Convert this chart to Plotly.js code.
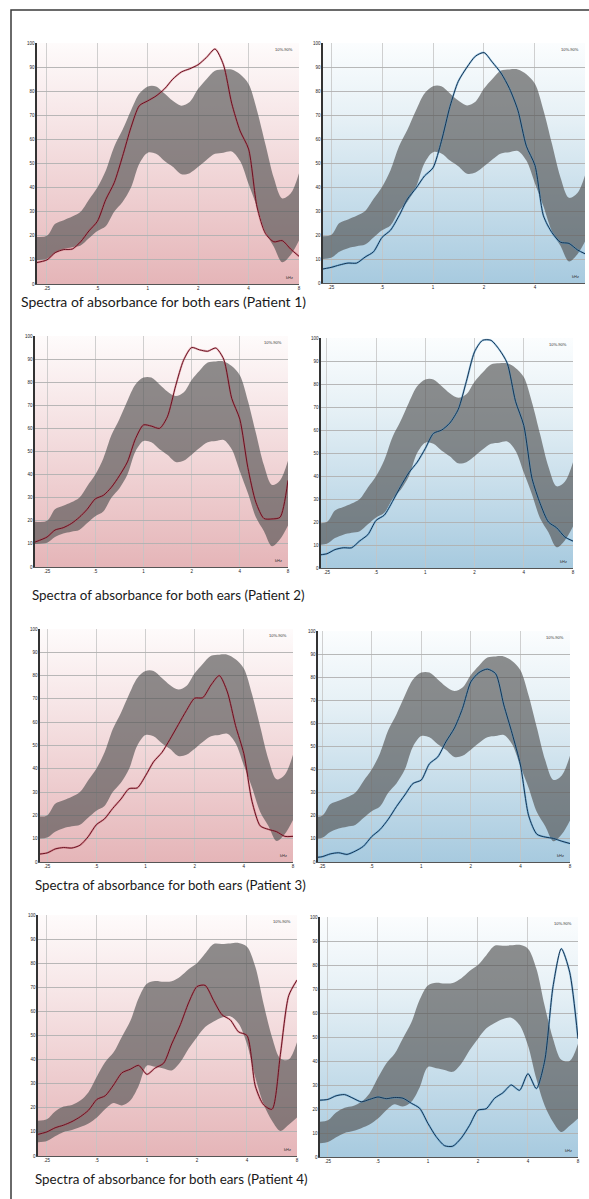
<!DOCTYPE html>
<html><head><meta charset="utf-8">
<script src="https://cdn.plot.ly/plotly-3.0.1.min.js"></script>
<style>html,body{margin:0;padding:0;background:#fff}#chart{width:589px;height:1199px}</style>
</head><body><div id="chart"></div>
<script>
// Frequencies (kHz), 1/6-octave steps
const freqKHz = [0.21,0.25,0.28,0.315,0.354,0.397,0.445,0.5,0.561,0.63,0.707,0.794,0.891,1,1.12,1.26,1.41,1.59,1.78,2,2.24,2.52,2.83,3.17,3.56,4,4.49,5.04,5.66,6.35,7.13,8];
const xTickVals = [0.25,0.5,1,2,4,8];
const xTickText = ['.25','.5','1','2','4','8'];
const yTickVals = [0,10,20,30,40,50,60,70,80,90,100];

// Normative 10%-90% band (patients 1-3)
const normUpper = [19.6,20,25,26.5,28,30,35,40,47,57,64,72,79,82,82,79,76,74,75.5,81,85,88.5,89,89,87,83,72,58,44,35.5,37.5,46];
const normLower = [10,10.5,13,14.5,15.3,16,19,22,24,30,34,40,50,54.5,54,51,48.6,45.5,46,48.6,51.5,54,54.5,55,51,41.5,32,21.5,15.5,9,12,18];
// Normative band (patient 4)
const normUpperP4 = [14.6,15.3,18.5,20.5,21.2,23,26.5,33,39,43,49.5,56,65.5,71.5,72.6,72.3,72.5,74.5,77.5,80,84,88,88,88.2,88.4,86.8,78.5,63,49.3,40.5,40,47.2];
const normLowerP4 = [5.6,6.2,8.2,10,10.8,12,13.5,16,19.5,22,21,23,29,37.5,37,36.3,35.5,39,44.5,49.3,53.5,55.8,57.5,58,55,46.5,32.6,21.5,14.6,10.4,13,16];

// Measured absorbance (%), left ear (red) and right ear (blue)
const p1Left  = [8.7,10,13,14.3,14.5,17.5,22,26,35,42,53,65,74,76,78,81,85,88,89.3,91,94,97.5,91,75,63.5,56,32,21,17.5,18,14.5,11.5];
const p1Right = [5.5,6.5,7.5,8.3,8.3,10.8,13,19,22,28,35,39.5,44.6,48,59,73.6,84,90,94.5,96,92,87.5,81,72,57,49,28,21,17,16.5,13.8,12];
const p2Left  = [10.8,13,16,17,18.8,21.5,25,29.5,31,34.5,39.5,45.5,55.5,61.5,61,60,65,78.5,89.5,95,94,93.4,94.8,90,73,64,43,28,21,20.8,21.5,37.5];
const p2Right = [5.5,6.2,8,8.8,8.8,11.8,14.5,20.7,23,29,35.5,41.5,46,52,58.5,60,63,69,81,94,99,99,95,89,72.5,62,39,28,20,17.5,13.5,11.7];
const p3Left  = [3.2,3.9,5.6,6.2,6,7.2,10.8,16,18.5,23,27,31.5,31.8,37,43,47,52.6,59,65,70.3,70.5,76,80,73,58.5,46.5,26,15.5,14,13,11,11];
const p3Right = [1.7,2.3,3.5,4,3.3,4.7,6.8,11,14,18.5,24,29,34,35.5,42.5,45.5,52,58,66.5,78,82,83.5,81.5,68,55.7,42,20,12,10.8,10.2,9,8];
const p4Left  = [8.6,10,11.7,12.8,14.3,16.3,19,23.5,25,29.5,34.5,36,37.6,33.9,36.5,38.5,46.5,54.5,63.5,70.3,70.8,64.5,58.6,56.5,51.5,50,29,21.2,19.4,42,66.5,73];
const p4Right = [23.6,24,25.5,26,24.5,23,24,25,24.3,24.8,24.5,22.4,20.3,14,8.5,4.7,4.5,8,13.2,19.5,20.1,24.5,26.8,30,27.8,34.7,28.5,40,71,86.8,77,49.3];

const captions = ['Spectra of absorbance for both ears (Patient 1)','Spectra of absorbance for both ears (Patient 2)','Spectra of absorbance for both ears (Patient 3)','Spectra of absorbance for both ears (Patient 4)'];
const bandLabel = '10%-90%';
const unitLabel = 'kHz';

// ---- layout geometry (pixels) ----
const W = 589, H = 1199;
const panels = [
  {box:[37,299,43,284],  xr:[0.218,8],   ear:'L', data:p1Left,  up:normUpper,   lo:normLower},
  {box:[323,585,43,283], xr:[0.224,7.9], ear:'R', data:p1Right, up:normUpper,   lo:normLower},
  {box:[35,288,336,567], xr:[0.21,8],    ear:'L', data:p2Left,  up:normUpper,   lo:normLower},
  {box:[321,573,338,568],xr:[0.23,8],    ear:'R', data:p2Right, up:normUpper,   lo:normLower},
  {box:[40,293,629,862], xr:[0.226,8],   ear:'L', data:p3Left,  up:normUpper,   lo:normLower},
  {box:[318,570,631,862],xr:[0.236,8],   ear:'R', data:p3Right, up:normUpper,   lo:normLower},
  {box:[38,297,915,1156],xr:[0.221,8],   ear:'L', data:p4Left,  up:normUpperP4, lo:normLowerP4},
  {box:[320,578,917,1157],xr:[0.224,8],  ear:'R', data:p4Right, up:normUpperP4, lo:normLowerP4}
];
const capPos = [[19,302,14],[30,595,13.4],[33,885,13.3],[33,1179,13.4]];

function grad(top, mid, bottom){
  const svg = '<svg xmlns="http://www.w3.org/2000/svg" width="100" height="100" viewBox="0 0 100 100" preserveAspectRatio="none">'+
   '<defs><linearGradient id="g" x1="0" y1="0" x2="0" y2="1">'+
   '<stop offset="0" stop-color="'+top+'"/><stop offset="0.3" stop-color="'+mid+'"/><stop offset="1" stop-color="'+bottom+'"/>'+
   '</linearGradient></defs><rect x="0" y="0" width="100" height="100" fill="url(#g)"/></svg>';
  return 'data:image/svg+xml;charset=utf-8,' + encodeURIComponent(svg);
}
const pinkBg = grad('#fefbfb','#f7e7e8','#e5b5b8');
const blueBg = grad('#fbfdfe','#e7f1f6','#a7cadf');

const traces = [];
const layout = {
  width: W, height: H, margin:{l:0,r:0,t:0,b:0},
  paper_bgcolor:'#ffffff', plot_bgcolor:'rgba(0,0,0,0)', showlegend:false,
  font:{family:'Lato, "Open Sans", sans-serif', color:'#222'},
  images:[], annotations:[], shapes:[]
};

panels.forEach((p,i)=>{
  const n = i+1, sfx = n===1?'':String(n);
  const xa = 'x'+sfx, ya = 'y'+sfx;
  const [x0,x1,y0,y1] = p.box;
  const lineCol = p.ear==='L' ? '#6a1020' : '#153452';
  const haloCol = p.ear==='L' ? 'rgba(190,70,85,0.4)' : 'rgba(70,150,205,0.5)';
  traces.push({x:freqKHz, y:p.lo, xaxis:xa, yaxis:ya, type:'scatter', mode:'lines',
    line:{width:0, shape:'spline', smoothing:0.9, color:'rgba(0,0,0,0)'}, hoverinfo:'skip'});
  traces.push({x:freqKHz, y:p.up, xaxis:xa, yaxis:ya, type:'scatter', mode:'lines', fill:'tonexty',
    fillcolor:'rgba(80,80,80,0.64)', line:{width:0, shape:'spline', smoothing:0.9, color:'rgba(0,0,0,0)'}, hoverinfo:'skip'});
  traces.push({x:freqKHz, y:p.data, xaxis:xa, yaxis:ya, type:'scatter', mode:'lines',
    line:{width:2.0, shape:'spline', smoothing:0.7, color:haloCol}, hoverinfo:'skip'});
  traces.push({x:freqKHz, y:p.data, xaxis:xa, yaxis:ya, type:'scatter', mode:'lines',
    line:{width:1.0, shape:'spline', smoothing:0.7, color:lineCol}});

  layout['xaxis'+sfx] = {
    type:'log', range:[Math.log10(p.xr[0]), Math.log10(p.xr[1])],
    domain:[x0/W, x1/W], anchor:ya,
    tickvals:xTickVals, ticktext:xTickText, tickfont:{size:4.5, color:'#222', family:'Liberation Sans, Arial, sans-serif'},
    ticklabelstandoff:-1,
    showgrid:true, gridcolor:'#c4c4c4', gridwidth:0.8,
    showline:true, linecolor:'#555', linewidth:1.2, ticks:'', zeroline:false, fixedrange:true
  };
  layout['yaxis'+sfx] = {
    range:[0,100], domain:[1-y1/H, 1-y0/H], anchor:xa,
    tickvals:yTickVals, ticksuffix:'%', tickfont:{size:4.5, color:'#222', family:'Liberation Sans, Arial, sans-serif'},
    showgrid:true, gridcolor:'#b0b0b0', gridwidth:0.9,
    showline:true, linecolor:'#333', linewidth:1.6, ticks:'', zeroline:false, fixedrange:true
  };
  layout.images.push({source: p.ear==='L'?pinkBg:blueBg, xref:'paper', yref:'paper',
    x:x0/W, y:1-y0/H, sizex:(x1-x0)/W, sizey:(y1-y0)/H, sizing:'stretch',
    xanchor:'left', yanchor:'top', layer:'below'});
  layout.annotations.push({text:bandLabel, xref:xa+' domain', yref:ya+' domain', x:0.985, y:0.99,
    xanchor:'right', yanchor:'top', showarrow:false, font:{size:4, color:'#333', family:'Liberation Sans, Arial, sans-serif'}});
  layout.annotations.push({text:unitLabel, xref:xa+' domain', yref:ya+' domain', x:0.985, y:0.01,
    xanchor:'right', yanchor:'bottom', showarrow:false, font:{size:4, color:'#333', family:'Liberation Sans, Arial, sans-serif'}});
});

captions.forEach((c,i)=>{
  const [cx,cy,fs] = capPos[i];
  layout.annotations.push({text:c, xref:'paper', yref:'paper', x:cx/W, y:1-cy/H,
    xanchor:'left', yanchor:'middle', showarrow:false,
    font:{size:fs, color:'#1a1a1a', family:'Lato, "Open Sans", sans-serif'}});
});

layout.shapes.push({type:'rect', xref:'paper', yref:'paper', x0:11/W, x1:1.01, y0:-0.01, y1:1-10/H,
  line:{color:'#3a3a3a', width:1.5}, fillcolor:'rgba(0,0,0,0)', layer:'above'});

Plotly.newPlot('chart', traces, layout, {staticPlot:true, displayModeBar:false});
</script></body></html>
